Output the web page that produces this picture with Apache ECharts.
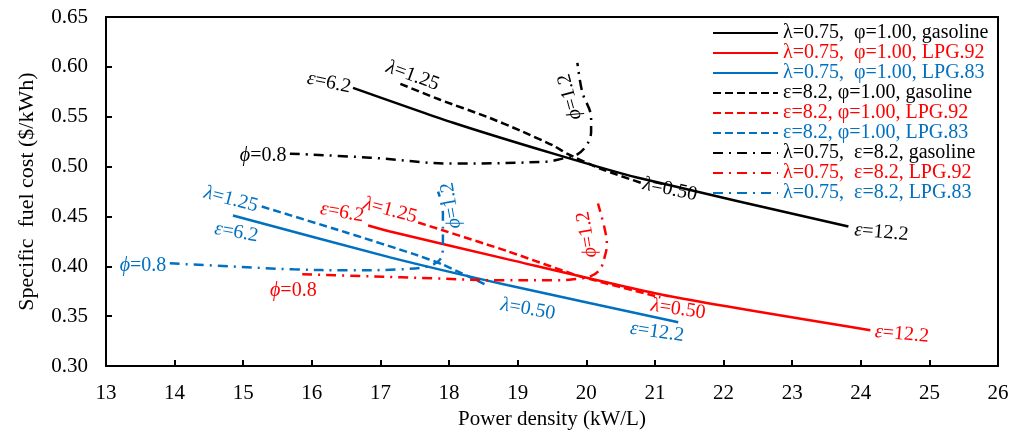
<!DOCTYPE html>
<html><head><meta charset="utf-8">
<script src="https://cdn.jsdelivr.net/npm/echarts@6/dist/echarts.min.js"></script>
<style>html,body{margin:0;padding:0;background:#fff}#c{width:1026px;height:435px}</style>
</head><body><div id="c"></div>
<script>
// ---- data ----
const xTickValues = [13,14,15,16,17,18,19,20,21,22,23,24,25,26];
const yTickValues = [0.30,0.35,0.40,0.45,0.50,0.55,0.60,0.65];

const seriesNames = [
  'λ=0.75,  φ=1.00, gasoline',
  'λ=0.75,  φ=1.00, LPG.92',
  'λ=0.75,  φ=1.00, LPG.83',
  'ε=8.2, φ=1.00, gasoline',
  'ε=8.2, φ=1.00, LPG.92',
  'ε=8.2, φ=1.00, LPG.83',
  'λ=0.75,  ε=8.2, gasoline',
  'λ=0.75,  ε=8.2, LPG.92',
  'λ=0.75,  ε=8.2, LPG.83'
];

// compression ratio sweep (ε 6.2 -> 12.2)
const gasolineEps = [[16.60,0.579],[18.06,0.544],[19.52,0.513],[20.74,0.489],[23.82,0.440]];
const lpg92Eps    = [[16.82,0.441],[17.14,0.435],[18.86,0.407],[21.22,0.370],[24.14,0.336]];
const lpg83Eps    = [[14.85,0.451],[17.14,0.409],[18.86,0.381],[21.34,0.344]];
// excess air sweep (λ 1.25 -> 0.50)
const gasolineLam = [[17.29,0.583],[17.87,0.567],[18.55,0.550],[19.04,0.536],[19.52,0.521],[19.72,0.513],[20.20,0.498],[20.83,0.483]];
const lpg92Lam    = [[17.55,0.444],[18.86,0.415],[19.91,0.390],[21.08,0.369]];
const lpg83Lam    = [[15.27,0.460],[16.50,0.434],[17.50,0.412],[17.90,0.402],[18.55,0.381]];
// equivalence ratio sweep (φ 0.8 -> 1.2)
const gasolinePhi = [[15.68,0.513],[16.85,0.509],[18.06,0.503],[19.43,0.505],[19.65,0.508],[19.84,0.511],[20.00,0.521],[20.07,0.535],[20.07,0.549],[19.94,0.575],[19.87,0.604]];
const lpg92Phi    = [[15.86,0.392],[16.85,0.390],[17.77,0.388],[18.74,0.386],[19.57,0.386],[19.81,0.387],[20.06,0.390],[20.20,0.397],[20.27,0.410],[20.30,0.422],[20.27,0.437],[20.17,0.463]];
const lpg83Phi    = [[13.93,0.403],[14.81,0.400],[15.73,0.397],[16.56,0.396],[17.29,0.397],[17.69,0.400],[17.87,0.407],[17.91,0.421],[17.91,0.453],[17.84,0.475]];

const seriesData = [gasolineEps, lpg92Eps, lpg83Eps, gasolineLam, lpg92Lam, lpg83Lam, gasolinePhi, lpg92Phi, lpg83Phi];

// annotations: [greek, rest, x, y, rotationDeg, colorIndex]
const annotations = [
  ['ε','=6.2', 16.25,0.584,-12,0], ['λ','=1.25',17.47,0.591,-20,0], ['ϕ','=1.2',19.76,0.570,105,0],
  ['ϕ','=0.8', 15.29,0.511,0,0], ['λ','=0.50',21.22,0.477,-12,0], ['ε','=12.2',24.30,0.434,-5,0],
  ['ε','=6.2', 16.44,0.454,-10,1], ['λ','=1.25',17.14,0.456,-15,1], ['ϕ','=1.2',20.01,0.432,100,1],
  ['ϕ','=0.8', 15.73,0.376,0,1], ['λ','=0.50',21.34,0.357,-8,1], ['ε','=12.2',24.60,0.332,-5,1],
  ['λ','=1.25',14.82,0.467,-15,2], ['ε','=6.2', 14.90,0.434,-10,2], ['ϕ','=1.2',18.03,0.461,100,2],
  ['ϕ','=0.8', 13.54,0.401,0,2], ['λ','=0.50',19.15,0.357,-10,2], ['ε','=12.2',21.03,0.334,-8,2]
];

// ---- styles ----
const colors = ['#000000','#FF0000','#0070C0'];
const dashTypes = ['solid',[8,4],[10,6,2,6]];
const smoothness = [0.2, 0.2, 0.35];
const FONT = 'Liberation Serif';

const chart = echarts.init(document.getElementById('c'), null, {renderer:'canvas'});
const series = seriesData.map((d,i)=>({
  name: seriesNames[i], type:'line', data:d, showSymbol:false, symbol:'none',
  smooth: smoothness[Math.floor(i/3)], animation:false, z: 3,
  lineStyle:{color:colors[i%3], width:2.5, type:dashTypes[Math.floor(i/3)]},
  itemStyle:{color:colors[i%3]}
}));

chart.setOption({
  animation:false,
  backgroundColor:'#fff',
  grid:{left:106,right:28,top:17,bottom:68,show:true,borderColor:'#000',borderWidth:2,backgroundColor:'transparent'},
  legend:{
    orient:'vertical', left:707, top:18, itemWidth:65, itemHeight:14, itemGap:0,
    itemStyle:{color:'transparent', borderColor:'transparent', borderWidth:0, opacity:0},
    data: seriesNames.map((n,i)=>({name:n, textStyle:{color:colors[i%3]}})),
    textStyle:{fontFamily:FONT, fontSize:20, lineHeight:19.8}
  },
  xAxis:{type:'value', min:13, max:26, interval:1,
    name:'Power density (kW/L)', nameLocation:'middle', nameGap:40,
    nameTextStyle:{fontFamily:FONT, fontSize:21, color:'#000'},
    axisLine:{show:true, lineStyle:{color:'#000', width:2}},
    axisTick:{show:true, inside:true, length:6, lineStyle:{color:'#000', width:2}},
    axisLabel:{fontFamily:FONT, fontSize:21, color:'#000', margin:17,
      formatter:v=> xTickValues.includes(v) ? String(v) : ''},
    splitLine:{show:false}},
  yAxis:{type:'value', min:0.30, max:0.65, interval:0.05,
    name:'Specific  fuel cost ($/kWh)', nameLocation:'middle', nameGap:68,
    nameTextStyle:{fontFamily:FONT, fontSize:22, color:'#000'},
    axisLine:{show:true, lineStyle:{color:'#000', width:2}},
    axisTick:{show:true, inside:true, length:6, lineStyle:{color:'#000', width:2}},
    axisLabel:{fontFamily:FONT, fontSize:21, color:'#000', margin:18,
      formatter:v=> v.toFixed(2)},
    splitLine:{show:false}},
  series: series
});

const graphics = annotations.map(a=>{
  const p = chart.convertToPixel({gridIndex:0},[a[2],a[3]]);
  return {type:'text', x:p[0], y:p[1], rotation:a[4]*Math.PI/180, z:10, silent:true,
    style:{text:'{g|'+a[0]+'}'+a[1], fill:colors[a[5]], font:'20px '+FONT,
      align:'center', verticalAlign:'middle',
      rich:{g:{fontStyle:'italic', fontFamily:FONT, fontSize:20, fill:colors[a[5]]}}}};
});
chart.setOption({graphic:graphics});
</script></body></html>
